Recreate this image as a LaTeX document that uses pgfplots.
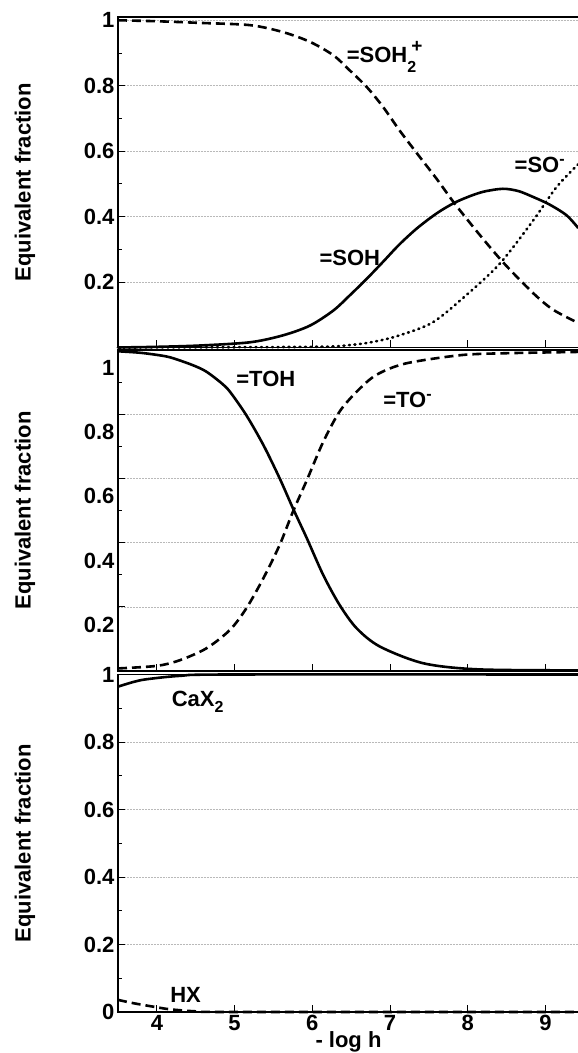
\documentclass[border=0pt]{standalone}
\usepackage{fontspec}
\setmainfont{Liberation Sans}
\usepackage{pgfplots}
\pgfplotsset{compat=1.18}

\newcommand{\lab}{\fontsize{22}{24}\selectfont\bfseries}
\newcommand{\tlab}{\fontsize{22}{24}\selectfont\bfseries}

\pgfplotsset{
  panel/.style={
    scale only axis, width=461pt,
    xmin=3.5, xmax=9.43, ymin=0, clip=false,
    axis line style={line width=1.2pt},
    xtick={4,5,6,7,8,9}, minor y tick num=1,
    xtick pos=bottom, ytick pos=left, tick align=inside,
    major tick length=7pt, minor tick length=4pt,
    tick style={line width=0.8pt, black},
    ymajorgrids, grid style={gray!55, line width=0.5pt, densely dotted},
    ticklabel style={font=\lab},
    /pgf/number format/assume math mode=true,
    ylabel={Equivalent fraction},
    ylabel style={font=\lab, at={(axis description cs:-0.202,0.5)}, anchor=center},
  },
  sol/.style={black, line width=2.6pt, smooth},
  dsh/.style={black, line width=2.6pt, smooth, dash pattern=on 9pt off 5pt},
  dot/.style={black, line width=2.6pt, smooth, line cap=round, dash pattern=on 1pt off 4.5pt},
}

\begin{document}
\begin{tikzpicture}
\useasboundingbox (0,0) rectangle (578pt,1053pt);

% top panel: =SOH2+, =SOH, =SO-
\begin{axis}[panel, at={(118pt,705.5pt)}, anchor=south west,
  height=330.5pt, ymax=1.01, ytick={0.2,0.4,0.6,0.8,1}, xticklabels={}]
\addplot[dsh] coordinates {(3.5,1.0) (4.0,0.997) (4.55,0.992) (5.2,0.985) (5.62,0.964) (5.97,0.934) (6.27,0.893) (6.48,0.847) (6.70,0.796) (6.91,0.735) (7.12,0.664) (7.34,0.595) (7.6,0.515) (7.83,0.44) (8.15,0.345) (8.47,0.256) (8.85,0.164) (9.1,0.115) (9.42,0.075)};
\addplot[sol] coordinates {(3.5,0.0) (4.0,0.002) (4.55,0.006) (5.2,0.016) (5.62,0.037) (5.97,0.067) (6.27,0.113) (6.48,0.159) (6.70,0.21) (6.91,0.262) (7.12,0.315) (7.35,0.365) (7.6,0.41) (7.81,0.44) (8.0,0.46) (8.2,0.476) (8.45,0.485) (8.65,0.478) (8.84,0.46) (9.05,0.437) (9.27,0.404) (9.42,0.365)};
\addplot[dot] coordinates {(3.5,0.0) (6.0,0.002) (6.5,0.008) (6.8,0.018) (7.12,0.037) (7.55,0.077) (7.98,0.16) (8.41,0.256) (8.84,0.388) (9.14,0.49) (9.42,0.56)};
\node[anchor=base west, font=\tlab, inner sep=0pt] at (axis cs:6.44,0.872) {=SOH\rlap{\raisebox{-10pt}{\fontsize{16}{16}\selectfont 2}}\hspace{4pt}\raisebox{10pt}{\fontsize{19}{19}\selectfont +}};
\node[anchor=base west, font=\tlab, inner sep=0pt] at (axis cs:8.60,0.535) {=SO\raisebox{8pt}{\fontsize{16}{16}\selectfont -}};
\node[anchor=base west, font=\tlab, inner sep=0pt] at (axis cs:6.09,0.251) {=SOH};
\end{axis}

% middle panel: =TOH, =TO-
\begin{axis}[panel, at={(118pt,382pt)}, anchor=south west,
  height=321pt, ymax=1, ytick={0.2,0.4,0.6,0.8,1}, xticklabels={},
  yticklabel style={yshift=-18pt}]
\addplot[sol] coordinates {(3.5,0.996) (3.8,0.991) (4.12,0.980) (4.30,0.967) (4.49,0.950) (4.64,0.932) (4.83,0.897) (4.94,0.870) (5.15,0.797) (5.37,0.704) (5.58,0.60) (5.75,0.507) (5.93,0.413) (6.14,0.299) (6.35,0.206) (6.57,0.133) (6.87,0.076) (7.43,0.024) (8.14,0.005) (9.42,0.002)};
\addplot[dsh] coordinates {(3.5,0.008) (4.0,0.016) (4.30,0.034) (4.64,0.071) (4.94,0.128) (5.15,0.195) (5.37,0.289) (5.58,0.393) (5.75,0.496) (5.93,0.595) (6.14,0.714) (6.35,0.808) (6.57,0.870) (6.82,0.922) (7.2,0.958) (7.91,0.984) (8.5,0.99) (9.42,0.994)};
\node[anchor=base west, font=\tlab, inner sep=0pt] at (axis cs:5.02,0.886) {=TOH};
\node[anchor=base west, font=\tlab, inner sep=0pt] at (axis cs:6.91,0.822) {=TO\raisebox{8pt}{\fontsize{16}{16}\selectfont -}};
\end{axis}

% bottom panel: CaX2, HX
\begin{axis}[panel, at={(118pt,41pt)}, anchor=south west,
  height=337.5pt, ymax=1, ytick={0,0.2,0.4,0.6,0.8,1},
  xticklabel style={inner sep=0pt, yshift=-3pt},
  xlabel={- log h},
  xlabel style={font=\lab, at={(axis description cs:0.5,0)}, anchor=base, yshift=-35pt}]
\addplot[sol] coordinates {(3.5,0.964) (3.7,0.978) (3.87,0.986) (4.3,0.996) (4.94,1.0) (9.42,1.0)};
\addplot[dsh] coordinates {(3.5,0.036) (3.7,0.026) (4.0,0.014) (4.17,0.008) (4.5,0.002) (5.0,0.0) (9.42,0.0)};
\node[anchor=base west, font=\tlab, inner sep=0pt] at (axis cs:4.19,0.904) {CaX\raisebox{-6pt}{\fontsize{16}{16}\selectfont 2}};
\node[anchor=base west, font=\tlab, inner sep=0pt] at (axis cs:4.17,0.027) {HX};
\end{axis}
\end{tikzpicture}
\end{document}
